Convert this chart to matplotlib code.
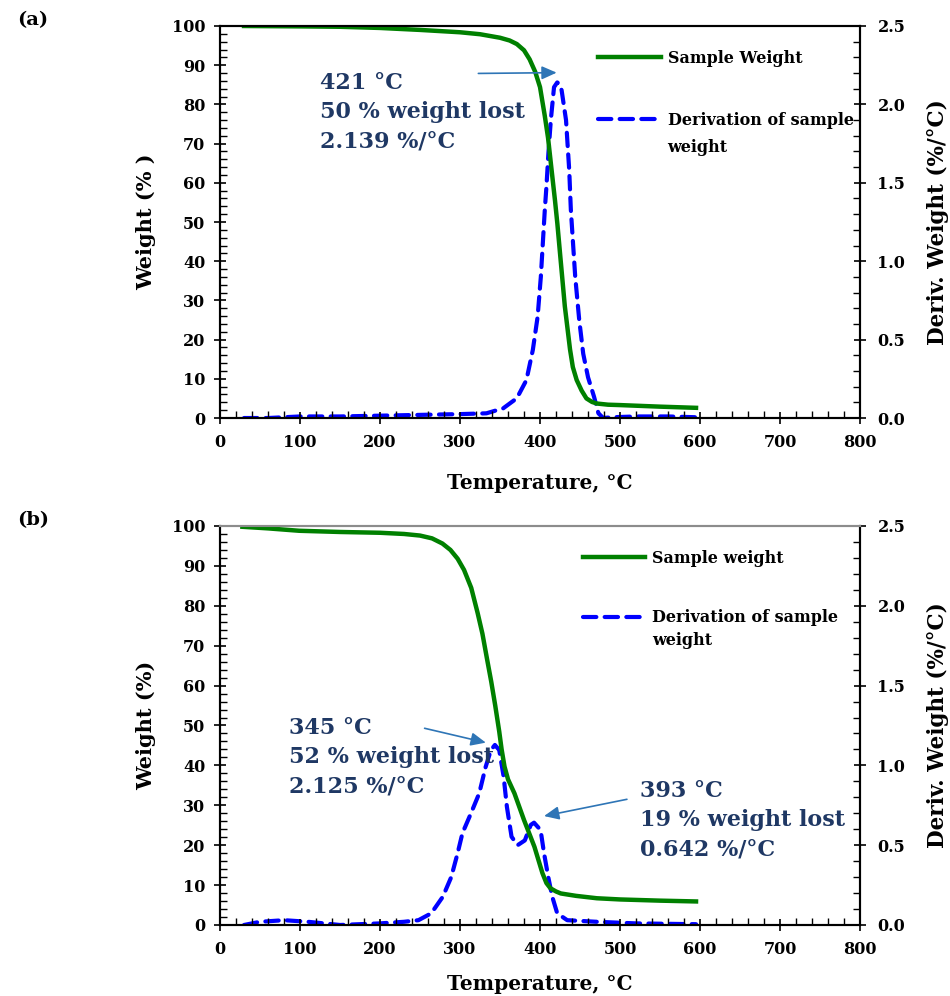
import numpy as np
import matplotlib
matplotlib.use("Agg")
import matplotlib.pyplot as plt
from matplotlib.ticker import MultipleLocator

plt.rcParams['font.family'] = ['DejaVu Serif']
plt.rcParams['font.weight'] = 'bold'

# ---- panel (a) ----
ta_w = [30, 100, 150, 200, 250, 300, 325, 350, 362, 371, 380, 387, 394, 400, 406, 410,
        414.6, 418.7, 421.7, 425, 431, 437.5, 441, 445.8, 452, 458, 465, 471, 485, 500,
        550, 595]
wa = [100, 99.9, 99.8, 99.5, 99.0, 98.4, 97.9, 97.0, 96.3, 95.4, 93.8, 91.5, 88.3, 84.4,
      77.0, 71.5, 63.0, 55.5, 49.5, 42.0, 28.5, 17.5, 13.0, 9.7, 7.0, 5.0, 4.1, 3.7, 3.4,
      3.3, 2.9, 2.6]
ta_d = [30, 60, 100, 150, 200, 250, 300, 333, 354, 371, 383, 391, 397, 401, 406, 408,
        410.5, 413.5, 417.5, 421.5, 424.5, 427, 432.5, 436.5, 438.5, 444, 449, 454, 460,
        467.5, 473, 479, 490, 520, 560, 595]
da = [0.0, 0.0, 0.01, 0.01, 0.015, 0.02, 0.025, 0.03, 0.062, 0.126, 0.242, 0.434, 0.646,
      0.90, 1.33, 1.475, 1.69, 1.90, 2.11, 2.14, 2.13, 2.09, 1.90, 1.58, 1.33, 0.90, 0.625,
      0.41, 0.26, 0.136, 0.03, 0.0, 0.005, 0.01, 0.01, 0.005]

# ---- panel (b) ----
tb_w = [28, 60, 99, 150, 200, 230, 250, 265, 278, 288, 297, 305, 314, 322, 328, 334, 339,
        344, 349, 352, 355.6, 360, 368, 380, 393, 403, 408, 413, 420, 426, 445, 471, 500,
        550, 595]
wb = [99.8, 99.4, 98.8, 98.5, 98.3, 98.0, 97.6, 96.9, 95.6, 94.0, 91.8, 89.0, 84.5, 78.2,
      73.0, 66.4, 61.0, 55.0, 48.5, 44.0, 39.7, 36.5, 33.0, 26.3, 19.6, 13.0, 10.5, 9.2,
      8.4, 7.9, 7.3, 6.7, 6.4, 6.1, 5.9]
tb_d = [30, 50, 80, 110, 150, 200, 230, 248, 264, 278.5, 289, 297, 303, 313.7, 324, 332,
        338.6, 343.6, 349, 354.5, 358.6, 364.4, 372, 381, 388.4, 392.5, 400.7, 405, 410.3,
        415.3, 421.5, 434, 471, 520, 595]
db = [0.0, 0.02, 0.03, 0.02, 0.0, 0.01, 0.02, 0.03, 0.073, 0.177, 0.30, 0.45, 0.575, 0.70,
      0.825, 0.99, 1.096, 1.128, 1.096, 0.93, 0.74, 0.553, 0.50, 0.53, 0.627, 0.641, 0.595,
      0.45, 0.30, 0.177, 0.073, 0.03, 0.02, 0.01, 0.005]

green = '#008000'
blue = '#0000FF'
navy = '#1F3864'
arrow_c = '#2E75B6'

fig = plt.figure(figsize=(9.5, 9.96), dpi=100)

panels = [
    dict(pos=[0.2316, 0.5803, 0.6737, 0.3936], tw=ta_w, w=wa, td=ta_d, d=da,
         ylab='Weight (% )', leg1='Sample Weight', tag='(a)', topc='black',
         leg_xy=(0.591, 0.94), leg_sp=2.85, wt_xy=(0.698, 0.691), xl=-0.166,
         notes=[("421 °C\n50 % weight lost\n2.139 %/°C", (125, 78.0), (322.9, 87.9), (420.8, 88.1))]),
    dict(pos=[0.2316, 0.0713, 0.6737, 0.4006], tw=tb_w, w=wb, td=tb_d, d=db,
         ylab='Weight (%)', leg1='Sample weight', tag='(b)', topc='#8c8c8c',
         leg_xy=(0.567, 0.94), leg_sp=2.65, wt_xy=(0.675, 0.712), xl=-0.148,
         notes=[("345 °C\n52 % weight lost\n2.125 %/°C", (86, 42.0), (255.7, 49.3), (332.3, 45.7)),
                ("393 °C\n19 % weight lost\n0.642 %/°C", (525, 26.3), (508.6, 31.5), (405, 27.3))]),
]

for p in panels:
    ax = fig.add_axes(p['pos'])
    ax2 = ax.twinx()
    ax.set_zorder(ax2.get_zorder() + 1)
    ax.patch.set_visible(False)

    l2, = ax2.plot(p['td'], p['d'], color=blue, lw=3, ls=(0, (3.2, 2.0)),
                   dash_capstyle='round', label='Derivation of sample')
    l1, = ax.plot(p['tw'], p['w'], color=green, lw=3.2, label=p['leg1'])

    ax.set_xlim(0, 800)
    ax.set_ylim(0, 100)
    ax2.set_ylim(0, 2.5)
    ax.xaxis.set_major_locator(MultipleLocator(100))
    ax.xaxis.set_minor_locator(MultipleLocator(20))
    ax.yaxis.set_major_locator(MultipleLocator(10))
    ax.yaxis.set_minor_locator(MultipleLocator(2))
    ax2.yaxis.set_major_locator(MultipleLocator(0.5))
    ax2.yaxis.set_minor_locator(MultipleLocator(0.1))
    ax2.yaxis.set_major_formatter(plt.FormatStrFormatter('%.1f'))

    for a in (ax, ax2):
        a.tick_params(which='major', direction='inout', length=9, width=1.2, labelsize=11.5)
        a.tick_params(which='minor', direction='in', length=5, width=1)
        for s in a.spines.values():
            s.set_linewidth(1.5)
        a.spines['top'].set_color(p['topc'])
    ax.tick_params(axis='x', which='major', pad=7)
    ax.tick_params(axis='y', which='major', pad=6)
    ax2.tick_params(axis='y', which='major', pad=8)

    ax.set_xlabel('Temperature, °C', fontsize=14.5, fontweight='bold')
    ax.xaxis.set_label_coords(0.5, p['xl'], transform=ax.transAxes)
    ax.xaxis.label.set_va('center')
    ax.set_ylabel(p['ylab'], fontsize=15, fontweight='bold')
    ax.yaxis.set_label_coords(-0.1, 0.5)
    ax2.set_ylabel('Deriv. Weight (%/°C)', fontsize=15.5, fontweight='bold')
    ax2.yaxis.set_label_coords(1.105, 0.5)

    for txt, xy_t, xy_a, xy_h in p['notes']:
        ax.text(xy_t[0], xy_t[1], txt, color=navy, fontsize=16, fontweight='bold',
                ha='left', va='center', linespacing=1.42)
        ax.annotate('', xy=xy_h, xytext=xy_a,
                    arrowprops=dict(arrowstyle='-|>,head_length=0.9,head_width=0.4',
                                    color=arrow_c, lw=1.2, shrinkA=0, shrinkB=0))

    ax.legend(handles=[l1, l2], loc='upper left', bbox_to_anchor=p['leg_xy'],
              frameon=False, fontsize=11.5, handlelength=3.9, handletextpad=0.45,
              labelspacing=p['leg_sp'], borderaxespad=0, borderpad=0)
    ax.text(p['wt_xy'][0], p['wt_xy'][1], 'weight', transform=ax.transAxes,
            fontsize=11.5, fontweight='bold', ha='left', va='center')

    fig.text(0.018, p['pos'][1] + p['pos'][3] + 0.006, p['tag'], fontsize=14,
             fontweight='bold', va='center')

fig.savefig('out.png', dpi=100)
